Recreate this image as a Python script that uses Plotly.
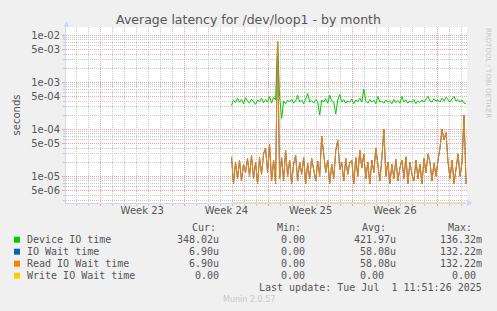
import numpy as np
import pandas as pd
import plotly.graph_objects as go

# ---------------- data ----------------
end_time = pd.Timestamp("2025-07-01 11:51:26")
start_time = end_time - pd.Timedelta(hours=800)
data_start = pd.Timestamp("2025-06-11 22:00:00")

# Device IO time (microseconds), one sample every 4 hours
device_io_us = [320, 420, 370, 460, 380, 430, 350, 470, 400, 360, 440, 380, 340, 420, 390, 460,
                370, 430, 380, 500, 360, 480, 420, 7000, 500, 170, 400, 350, 420, 380, 440, 360,
                400, 530, 380, 420, 350, 440, 580, 380, 410, 360, 430, 390, 200, 420, 380, 450,
                360, 530, 400, 380, 210, 420, 550, 380, 430, 360, 400, 380, 440, 350, 420, 390,
                460, 380, 720, 400, 360, 430, 380, 420, 350, 500, 380, 400, 360, 420, 380, 400,
                350, 430, 370, 410, 360, 500, 380, 420, 360, 400, 380, 430, 350, 400, 370, 420,
                380, 440, 500, 400, 380, 450, 400, 420, 380, 460, 400, 480, 420, 380, 440, 500,
                400, 430, 380, 420, 360, 348]

# Read IO wait time (microseconds)
read_io_us = [26, 7, 20, 9, 22, 8, 18, 12, 24, 10, 28, 9, 20, 7, 25, 11,
              30, 40, 12, 48, 8, 22, 7, 7500, 9, 25, 8, 36, 10, 22, 7, 18,
              28, 8, 20, 11, 25, 7, 19, 9, 24, 13, 8, 21, 10, 72, 30, 12,
              22, 7, 18, 9, 35, 59, 14, 20, 8, 24, 11, 20, 22, 7, 25, 10,
              36, 15, 30, 9, 20, 7, 22, 12, 40, 18, 8, 24, 100, 10, 20, 7,
              18, 9, 23, 8, 15, 22, 9, 26, 7, 20, 11, 8, 22, 9, 18, 7,
              24, 12, 30, 20, 8, 19, 10, 22, 40, 100, 60, 85, 20, 9, 22, 7,
              15, 30, 10, 20, 200, 6.9]

# IO wait time = read + write
write_io_us = [0.0] * len(read_io_us)
io_wait_us = [r + w for r, w in zip(read_io_us, write_io_us)]

series_names = ["Device IO time", "IO Wait time", "Read IO Wait time", "Write IO Wait time"]
series_colors = ["#00CC00", "#0066B3", "#FF8000", "#FFCC00"]
cur_vals = ["348.02u", "6.90u", "6.90u", "0.00"]
min_vals = ["0.00", "0.00", "0.00", "0.00"]
avg_vals = ["421.97u", "58.08u", "58.08u", "0.00"]
max_vals = ["136.32m", "132.22m", "132.22m", "0.00"]

y_tick_vals = [5e-6, 1e-5, 5e-5, 1e-4, 5e-4, 1e-3, 5e-3, 1e-2]
y_tick_text = ["5e-06", "1e-05", "5e-05", "1e-04", "5e-04", "1e-03", "5e-03", "1e-02"]
week_labels = ["Week 23", "Week 24", "Week 25", "Week 26"]
week_starts = pd.to_datetime(["2025-06-01", "2025-06-08", "2025-06-15", "2025-06-22", "2025-06-29"])

# ---------------- figure ----------------
W, H = 497, 311
ML, MR, MT, MB = 66, 30, 27, 108
PW, PH = W - ML - MR, H - MT - MB
Y_LO, Y_HI = -5.568, -1.823

def px_x(px):
    return (px - ML) / PW

def px_y(py):
    return (H - MB - py) / PH

times = pd.date_range(data_start, periods=len(device_io_us), freq="4h")
us = 1e-6
ymin = 10 ** Y_LO

fig = go.Figure()
traces = [
    (series_names[3], np.maximum(np.array(write_io_us) * us, ymin), series_colors[3]),
    (series_names[0], np.array(device_io_us) * us, series_colors[0]),
    (series_names[1], np.array(io_wait_us) * us, series_colors[1]),
    (series_names[2], np.array(read_io_us) * us, series_colors[2]),
]
for name, vals, col in traces:
    fig.add_trace(go.Scatter(x=times, y=vals, mode="lines", name=name,
                             line=dict(color=col, width=1), cliponaxis=False,
                             showlegend=False, hoverinfo="skip"))

GRID_MINOR = "#C8C8C8"
GRID_MAJOR = "#EFA0A0"
AXIS_COL = "#CFD6F8"
FONT_COL = "#555555"

week_mids = [w + pd.Timedelta(hours=84) for w in week_starts[:-1]]

fig.update_layout(
    width=W, height=H,
    margin=dict(l=ML, r=MR, t=MT, b=MB, pad=0),
    paper_bgcolor="#F0F0F0", plot_bgcolor="#FFFFFF",
    font=dict(family="DejaVu Sans", size=10, color=FONT_COL),
    showlegend=False,
    title=dict(text="Average latency for /dev/loop1 - by month", x=0.5, xref="container",
               xanchor="center", y=1 - 19.5 / H, yref="container", yanchor="middle",
               font=dict(family="DejaVu Sans", size=12.5, color=FONT_COL)),
    xaxis=dict(type="date", range=[start_time, end_time], tickvals=week_starts,
               showticklabels=False, showgrid=True, gridcolor=GRID_MAJOR, griddash="1px,1px",
               gridwidth=1, ticks="outside", ticklen=2, tickcolor=GRID_MAJOR,
               showline=True, linecolor=AXIS_COL, linewidth=1, mirror=False, zeroline=False,
               minor=dict(dtick=86400000, tick0="2025-06-01", showgrid=True, gridcolor=GRID_MINOR,
                          griddash="1px,1px", ticks="outside", ticklen=2, tickcolor=GRID_MINOR)),
    xaxis2=dict(type="date", range=[start_time, end_time], overlaying="x", anchor="y", side="bottom",
                tickvals=week_mids, ticktext=week_labels, showgrid=False, ticks="", ticklen=0,
                showline=False, zeroline=False,
                tickfont=dict(family="DejaVu Sans", size=10, color=FONT_COL)),
    yaxis=dict(type="log", range=[Y_LO, Y_HI], tickvals=y_tick_vals, ticktext=y_tick_text,
               showgrid=True, gridcolor=GRID_MAJOR, griddash="1px,1px", gridwidth=1,
               ticks="outside", ticklen=3, tickcolor=GRID_MAJOR,
               showline=True, linecolor=AXIS_COL, linewidth=1, zeroline=False,
               tickfont=dict(family="DejaVu Sans", size=10, color=FONT_COL),
               title=dict(text="seconds", standoff=8, font=dict(family="DejaVu Sans", size=10, color=FONT_COL)),
               minor=dict(tickvals=[k * 10.0 ** e for e in range(-6, -1) for k in range(2, 10) if k != 5],
                          showgrid=True, gridcolor=GRID_MINOR, griddash="1px,1px",
                          ticks="outside", ticklen=2, tickcolor=GRID_MINOR)),
)
# dummy trace so xaxis2 is active
fig.add_trace(go.Scatter(x=[start_time], y=[None], xaxis="x2", yaxis="y", showlegend=False,
                         hoverinfo="skip"))

shapes = []
# axis arrows
shapes.append(dict(type="path", xref="paper", yref="paper",
                   path=f"M {px_x(63.5)} {px_y(27)} L {px_x(69.5)} {px_y(27)} L {px_x(66.5)} {px_y(21)} Z",
                   fillcolor=AXIS_COL, line=dict(width=0)))
shapes.append(dict(type="path", xref="paper", yref="paper",
                   path=f"M {px_x(467)} {px_y(200)} L {px_x(467)} {px_y(206)} L {px_x(473)} {px_y(203)} Z",
                   fillcolor=AXIS_COL, line=dict(width=0)))

annotations = []
mono = dict(family="DejaVu Sans Mono", size=10, color=FONT_COL)

def txt(px, py, s, font=mono, anchor="left"):
    annotations.append(dict(x=px_x(px), y=px_y(py), xref="paper", yref="paper", text=s,
                            showarrow=False, xanchor=anchor, yanchor="middle", font=font,
                            borderpad=0))

# header row
hdr_y = 227.7
txt(190.7, hdr_y, "Cur:")
txt(276, hdr_y, "Min:")
txt(361, hdr_y, "Avg:")
txt(446.7, hdr_y, "Max:")

row_y = [239.7, 251.7, 263.7, 275.7]
for i in range(4):
    y = row_y[i]
    shapes.append(dict(type="rect", xref="paper", yref="paper",
                       x0=px_x(14), x1=px_x(20), y0=px_y(y + 3), y1=px_y(y - 3),
                       fillcolor=series_colors[i], line=dict(width=0)))
    txt(26, y, series_names[i])
    txt(219.5, y, cur_vals[i], anchor="right")
    txt(305.7, y, min_vals[i], anchor="right")
    txt(397 if avg_vals[i] != "0.00" else 385, y, avg_vals[i], anchor="right")
    txt(482.7 if max_vals[i] != "0.00" else 476.7, y, max_vals[i], anchor="right")

txt(482.7, 287.8, "Last update: Tue Jul  1 11:51:26 2025".replace(" ", "\u00a0"), anchor="right")
txt(248.5, 299.7, "Munin 2.0.57", font=dict(family="DejaVu Sans", size=8, color="#C8C8C8"), anchor="center")
annotations.append(dict(x=px_x(488.5), y=px_y(72.5), xref="paper", yref="paper",
                        text="RRDTOOL / TOBI OETIKER", textangle=90, showarrow=False,
                        xanchor="center", yanchor="middle",
                        font=dict(family="DejaVu Sans", size=7, color="#C8C8C8")))

fig.update_layout(shapes=shapes, annotations=annotations)
fig.write_html("out.html")
